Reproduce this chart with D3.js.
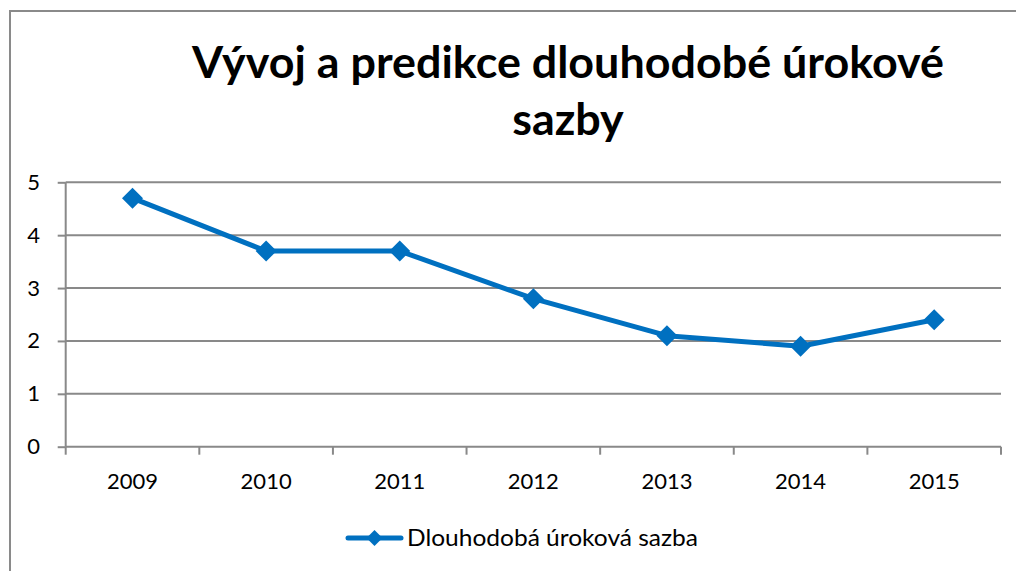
<!DOCTYPE html>
<html>
<head>
<meta charset="utf-8">
<script src="https://cdn.jsdelivr.net/npm/d3@7"></script>
<style>
html,body{margin:0;padding:0;background:#fff;}
svg{display:block;}
</style>
</head>
<body>
<svg id="chart" width="1016" height="571"></svg>
<script>
const titleLines = ["Vývoj a predikce dlouhodobé úrokové", "sazby"];
const categories = ["2009", "2010", "2011", "2012", "2013", "2014", "2015"];
const values = [4.7, 3.7, 3.7, 2.8, 2.1, 1.9, 2.4];
const yTicks = [0, 1, 2, 3, 4, 5];
const seriesName = "Dlouhodobá úroková sazba";

(function () {
const svg = d3.select("#chart");
const font = "Lato, 'Open Sans', sans-serif";
const gridColor = "#898989";
const lineColor = "#0070C0";

// outer border
svg.append("rect").attr("x", 10).attr("y", 11).attr("width", 1030).attr("height", 600)
  .attr("fill", "#fff").attr("stroke", "#8a8a8a").attr("stroke-width", 2);

const pLeft = 65.7, pRight = 1001, pTop = 182.3, pBottom = 446.7;
const x = d3.scaleBand().domain(categories).range([pLeft, pRight]).padding(0);
const y = d3.scaleLinear().domain([0, 5]).range([pBottom, pTop]);

// title (condensed horizontally to mimic the narrow original face)
const titleFs = 43;
const t1 = svg.append("text").attr("x", 568).attr("y", 78).attr("text-anchor", "middle")
  .attr("font-family", font).attr("font-weight", "bold").attr("font-size", titleFs).attr("fill", "#000")
  .text(titleLines[0]);
const t2 = svg.append("text").attr("x", 568).attr("y", 135).attr("text-anchor", "middle")
  .attr("font-family", font).attr("font-weight", "bold").attr("font-size", titleFs).attr("fill", "#000")
  .text(titleLines[1]);
const ratio = 752 / t1.node().getComputedTextLength();
t1.attr("textLength", 752).attr("lengthAdjust", "spacingAndGlyphs");
t2.attr("textLength", t2.node().getComputedTextLength() * ratio).attr("lengthAdjust", "spacingAndGlyphs");

// gridlines
svg.append("g").selectAll("line").data(yTicks.filter(d => d > 0)).join("line")
  .attr("x1", pLeft).attr("x2", pRight).attr("y1", d => y(d)).attr("y2", d => y(d))
  .attr("stroke", gridColor).attr("stroke-width", 2);

// y axis
const yAxis = svg.append("g").attr("transform", `translate(${pLeft},0)`)
  .call(d3.axisLeft(y).tickValues(yTicks).tickSize(8).tickPadding(12).tickFormat(d3.format("d")));
yAxis.select(".domain").attr("stroke", gridColor).attr("stroke-width", 2).attr("d", `M0,${pBottom}V${pTop}`);
yAxis.selectAll(".tick line").attr("stroke", gridColor).attr("stroke-width", 2);
yAxis.selectAll(".tick text").attr("font-family", font).attr("font-size", 22).attr("fill", "#000")
  .attr("x", -32).attr("text-anchor", "middle");

// x axis
const xAxis = svg.append("g").attr("transform", `translate(0,${pBottom})`)
  .call(d3.axisBottom(x).tickSize(0).tickPadding(27));
xAxis.select(".domain").attr("stroke", gridColor).attr("stroke-width", 2).attr("d", `M${pLeft},0H${pRight}`);
xAxis.selectAll(".tick text").attr("font-family", font).attr("font-size", 22).attr("fill", "#000");
const boundaries = categories.map(c => x(c)).concat([pRight]);
xAxis.append("g").selectAll("line").data(boundaries).join("line")
  .attr("x1", d => d).attr("x2", d => d).attr("y1", 0).attr("y2", 8)
  .attr("stroke", gridColor).attr("stroke-width", 2);

// line
const cx = d => x(d) + x.bandwidth() / 2;
const pts = categories.map((c, i) => [cx(c), y(values[i])]);
svg.append("path").attr("d", d3.line()(pts)).attr("fill", "none")
  .attr("stroke", lineColor).attr("stroke-width", 5).attr("stroke-linejoin", "round");

const diamond = r => `M0,${-r}L${r},0L0,${r}L${-r},0Z`;
svg.append("g").selectAll("path").data(pts).join("path")
  .attr("transform", d => `translate(${d[0]},${d[1]})`)
  .attr("d", diamond(10.5)).attr("fill", lineColor);

// legend
const lg = svg.append("g").attr("transform", "translate(0,538)");
lg.append("line").attr("x1", 348).attr("x2", 401).attr("y1", 0).attr("y2", 0)
  .attr("stroke", lineColor).attr("stroke-width", 5).attr("stroke-linecap", "round");
lg.append("path").attr("transform", "translate(374.5,0)").attr("d", diamond(8)).attr("fill", lineColor);
lg.append("text").attr("x", 407).attr("y", 8)
  .attr("font-family", font).attr("font-size", 22.5).attr("fill", "#000")
  .attr("textLength", 291).attr("lengthAdjust", "spacingAndGlyphs").text(seriesName);
})();
</script>
</body>
</html>
